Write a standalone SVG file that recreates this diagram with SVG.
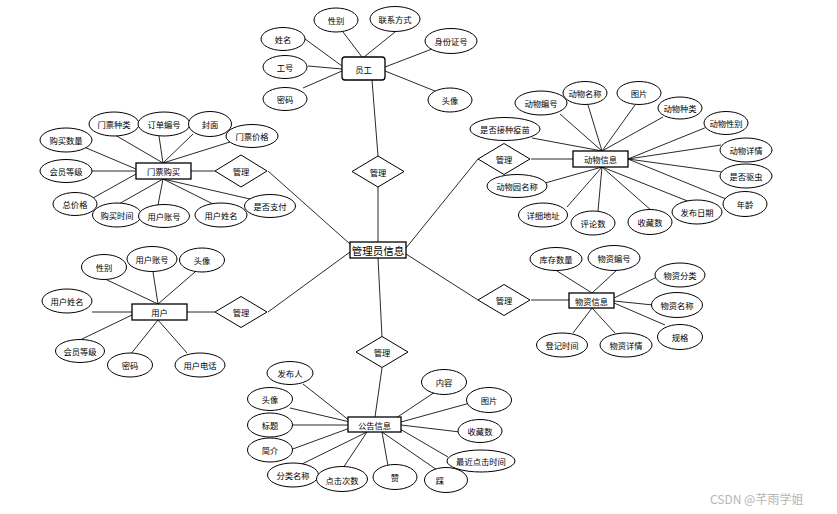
<svg xmlns="http://www.w3.org/2000/svg" width="837" height="514" viewBox="0 0 837 514">
<style>
.a{fill:#fff;stroke:#000;stroke-width:1}
.e{fill:#fff;stroke:#000;stroke-width:1.3}
.d{fill:#fff;stroke:#000;stroke-width:1}
.l{stroke:#111;stroke-width:0.9;fill:none}
text{font-family:"Noto Sans CJK SC","Noto Sans",sans-serif;font-size:8.3px;fill:#000;text-anchor:middle;dominant-baseline:central}
.big{font-size:10.5px}
.wm{font-size:12px;fill:#b5b5b5;text-anchor:start}
</style>
<rect width="837" height="514" fill="#fff"/>
<g id="connectors">
<line class="l" x1="305" y1="39" x2="342" y2="66"/>
<line class="l" x1="308" y1="66" x2="342" y2="69"/>
<line class="l" x1="303" y1="88" x2="342" y2="71"/>
<line class="l" x1="343" y1="32" x2="362" y2="57"/>
<line class="l" x1="395" y1="32" x2="364" y2="57"/>
<line class="l" x1="432" y1="49" x2="385" y2="67"/>
<line class="l" x1="435" y1="91" x2="385" y2="71"/>
<line class="l" x1="372" y1="80" x2="378" y2="156"/>
<line class="l" x1="378" y1="187" x2="378" y2="242"/>
<line class="l" x1="406" y1="248" x2="478" y2="159"/>
<line class="l" x1="531" y1="159" x2="573" y2="159"/>
<line class="l" x1="560" y1="114" x2="602" y2="151"/>
<line class="l" x1="588" y1="105" x2="602" y2="151"/>
<line class="l" x1="635" y1="105" x2="602" y2="151"/>
<line class="l" x1="663" y1="117" x2="602" y2="151"/>
<line class="l" x1="532" y1="138" x2="602" y2="151"/>
<line class="l" x1="707" y1="127" x2="628" y2="159"/>
<line class="l" x1="721" y1="145" x2="628" y2="159"/>
<line class="l" x1="722" y1="172" x2="628" y2="159"/>
<line class="l" x1="726" y1="199" x2="628" y2="159"/>
<line class="l" x1="690" y1="202" x2="602" y2="167"/>
<line class="l" x1="652" y1="211" x2="602" y2="167"/>
<line class="l" x1="598" y1="211" x2="602" y2="167"/>
<line class="l" x1="567" y1="207" x2="602" y2="167"/>
<line class="l" x1="545" y1="183" x2="602" y2="167"/>
<line class="l" x1="191" y1="171" x2="215" y2="171"/>
<line class="l" x1="268" y1="171" x2="350" y2="244"/>
<line class="l" x1="115" y1="135" x2="163" y2="163"/>
<line class="l" x1="159" y1="136" x2="163" y2="163"/>
<line class="l" x1="193" y1="134" x2="163" y2="163"/>
<line class="l" x1="230" y1="142" x2="163" y2="163"/>
<line class="l" x1="84" y1="147" x2="136" y2="169"/>
<line class="l" x1="92" y1="171" x2="136" y2="171"/>
<line class="l" x1="93" y1="198" x2="136" y2="174"/>
<line class="l" x1="117" y1="205" x2="163" y2="179"/>
<line class="l" x1="158" y1="205" x2="163" y2="179"/>
<line class="l" x1="213" y1="204" x2="163" y2="179"/>
<line class="l" x1="250" y1="199" x2="163" y2="179"/>
<line class="l" x1="187" y1="312" x2="215" y2="312"/>
<line class="l" x1="268" y1="312" x2="350" y2="252"/>
<line class="l" x1="105" y1="279" x2="158" y2="304"/>
<line class="l" x1="153" y1="272" x2="158" y2="304"/>
<line class="l" x1="195" y1="272" x2="158" y2="304"/>
<line class="l" x1="92" y1="312" x2="132" y2="312"/>
<line class="l" x1="82" y1="339" x2="132" y2="315"/>
<line class="l" x1="130" y1="355" x2="158" y2="320"/>
<line class="l" x1="187" y1="353" x2="158" y2="320"/>
<line class="l" x1="406" y1="254" x2="478" y2="300"/>
<line class="l" x1="531" y1="300" x2="569" y2="300"/>
<line class="l" x1="557" y1="271" x2="592" y2="293"/>
<line class="l" x1="617" y1="270" x2="592" y2="293"/>
<line class="l" x1="657" y1="277" x2="614" y2="298"/>
<line class="l" x1="653" y1="305" x2="614" y2="301"/>
<line class="l" x1="665" y1="325" x2="614" y2="303"/>
<line class="l" x1="573" y1="333" x2="592" y2="308"/>
<line class="l" x1="615" y1="333" x2="592" y2="308"/>
<line class="l" x1="378" y1="258" x2="382" y2="337"/>
<line class="l" x1="382" y1="368" x2="375" y2="417"/>
<line class="l" x1="303" y1="384" x2="350" y2="421"/>
<line class="l" x1="290" y1="408" x2="350" y2="422"/>
<line class="l" x1="293" y1="425" x2="348" y2="425"/>
<line class="l" x1="290" y1="450" x2="350" y2="428"/>
<line class="l" x1="300" y1="465" x2="367" y2="432"/>
<line class="l" x1="343" y1="468" x2="367" y2="432"/>
<line class="l" x1="388" y1="466" x2="382" y2="432"/>
<line class="l" x1="437" y1="470" x2="382" y2="432"/>
<line class="l" x1="448" y1="457" x2="400" y2="429"/>
<line class="l" x1="460" y1="432" x2="401" y2="425"/>
<line class="l" x1="470" y1="403" x2="401" y2="422"/>
<line class="l" x1="435" y1="392" x2="396" y2="418"/>
</g>

<g id="admin"><rect class="e" x="350" y="242" width="56" height="16"/><text class="big" x="378" y="250">管理员信息</text></g>

<g id="employee"><rect class="e" x="342" y="57" width="43" height="23" rx="3"/><text x="363.5" y="68.5">员工</text></g>
<g id="emp-name"><ellipse class="a" cx="283" cy="39" rx="22" ry="11.5"/><text x="283" y="39">姓名</text></g>
<g id="emp-sex"><ellipse class="a" cx="336" cy="20" rx="22" ry="12"/><text x="336" y="20">性别</text></g>
<g id="emp-contact"><ellipse class="a" cx="395" cy="19" rx="25" ry="12.5"/><text x="395" y="19">联系方式</text></g>
<g id="emp-id"><ellipse class="a" cx="451" cy="41" rx="26" ry="12.5"/><text x="451" y="41">身份证号</text></g>
<g id="emp-no"><ellipse class="a" cx="285" cy="67" rx="22" ry="11.5"/><text x="285" y="67">工号</text></g>
<g id="emp-pwd"><ellipse class="a" cx="285" cy="99" rx="22" ry="11.5"/><text x="285" y="99">密码</text></g>
<g id="emp-avatar"><ellipse class="a" cx="450" cy="100" rx="22" ry="12"/><text x="450" y="100">头像</text></g>
<g id="rel-emp"><polygon class="d" points="378,156 404,171.5 378,187 352,171.5"/><text x="378" y="171.5">管理</text></g>

<g id="animal"><rect class="e" x="573" y="151" width="55" height="16"/><text x="600.5" y="159">动物信息</text></g>
<g id="rel-animal"><polygon class="d" points="504,143.5 530,159 504,174.5 478,159"/><text x="504" y="159">管理</text></g>
<g id="an-no"><ellipse class="a" cx="541" cy="103" rx="26" ry="12"/><text x="541" y="103">动物编号</text></g>
<g id="an-name"><ellipse class="a" cx="585" cy="93" rx="22" ry="11.5"/><text x="585" y="93">动物名称</text></g>
<g id="an-pic"><ellipse class="a" cx="639" cy="93" rx="22" ry="11.5"/><text x="639" y="93">图片</text></g>
<g id="an-kind"><ellipse class="a" cx="680" cy="108" rx="22" ry="11"/><text x="680" y="108">动物种类</text></g>
<g id="an-sex"><ellipse class="a" cx="726" cy="123" rx="22" ry="11.5"/><text x="726" y="123">动物性别</text></g>
<g id="an-detail"><ellipse class="a" cx="746" cy="150" rx="26" ry="12"/><text x="746" y="150">动物详情</text></g>
<g id="an-worm"><ellipse class="a" cx="746" cy="176" rx="26" ry="12"/><text x="746" y="176">是否驱虫</text></g>
<g id="an-age"><ellipse class="a" cx="745" cy="204" rx="22" ry="12.5"/><text x="745" y="204">年龄</text></g>
<g id="an-date"><ellipse class="a" cx="697" cy="212" rx="25" ry="12"/><text x="697" y="212">发布日期</text></g>
<g id="an-fav"><ellipse class="a" cx="650" cy="222" rx="22" ry="12.5"/><text x="650" y="222">收藏数</text></g>
<g id="an-cmt"><ellipse class="a" cx="593" cy="223" rx="22" ry="12"/><text x="593" y="223">评论数</text></g>
<g id="an-addr"><ellipse class="a" cx="543" cy="215" rx="24.5" ry="12"/><text x="543" y="215">详细地址</text></g>
<g id="an-zoo"><ellipse class="a" cx="517" cy="186" rx="30" ry="11.5"/><text x="517" y="186">动物园名称</text></g>
<g id="an-vac"><ellipse class="a" cx="505" cy="129" rx="35" ry="11.5"/><text x="505" y="129">是否接种疫苗</text></g>

<g id="ticket"><rect class="e" x="136" y="163" width="55" height="16"/><text x="163.5" y="171">门票购买</text></g>
<g id="rel-ticket"><polygon class="d" points="241,155 267,171 241,187 215,171"/><text x="241" y="171">管理</text></g>
<g id="tk-kind"><ellipse class="a" cx="114" cy="124" rx="25" ry="12"/><text x="114" y="124">门票种类</text></g>
<g id="tk-order"><ellipse class="a" cx="164" cy="124" rx="26" ry="12"/><text x="164" y="124">订单编号</text></g>
<g id="tk-cover"><ellipse class="a" cx="210" cy="124" rx="21.5" ry="12.5"/><text x="210" y="124">封面</text></g>
<g id="tk-price"><ellipse class="a" cx="252" cy="136" rx="26" ry="11.5"/><text x="252" y="136">门票价格</text></g>
<g id="tk-qty"><ellipse class="a" cx="66" cy="140" rx="26" ry="12"/><text x="66" y="140">购买数量</text></g>
<g id="tk-level"><ellipse class="a" cx="66" cy="171" rx="26" ry="11.5"/><text x="66" y="171">会员等级</text></g>
<g id="tk-total"><ellipse class="a" cx="75" cy="204" rx="22" ry="11.5"/><text x="75" y="204">总价格</text></g>
<g id="tk-time"><ellipse class="a" cx="117" cy="215" rx="24.5" ry="12"/><text x="117" y="215">购买时间</text></g>
<g id="tk-acct"><ellipse class="a" cx="164" cy="216" rx="25.5" ry="11.5"/><text x="164" y="216">用户账号</text></g>
<g id="tk-uname"><ellipse class="a" cx="221" cy="215" rx="26" ry="12"/><text x="221" y="215">用户姓名</text></g>
<g id="tk-paid"><ellipse class="a" cx="270" cy="206" rx="25.5" ry="11.5"/><text x="270" y="206">是否支付</text></g>

<g id="user"><rect class="e" x="132" y="304" width="55" height="16"/><text x="159.5" y="312">用户</text></g>
<g id="rel-user"><polygon class="d" points="241,296.5 267,312 241,327.5 215,312"/><text x="241" y="312">管理</text></g>
<g id="us-sex"><ellipse class="a" cx="104" cy="267" rx="22.5" ry="12.5"/><text x="104" y="267">性别</text></g>
<g id="us-acct"><ellipse class="a" cx="152" cy="259" rx="25" ry="12.5"/><text x="152" y="259">用户账号</text></g>
<g id="us-avatar"><ellipse class="a" cx="202" cy="260" rx="22.5" ry="12"/><text x="202" y="260">头像</text></g>
<g id="us-name"><ellipse class="a" cx="67" cy="301" rx="25" ry="12"/><text x="67" y="301">用户姓名</text></g>
<g id="us-level"><ellipse class="a" cx="80" cy="351" rx="24.5" ry="11.5"/><text x="80" y="351">会员等级</text></g>
<g id="us-pwd"><ellipse class="a" cx="130" cy="365" rx="22.5" ry="12"/><text x="130" y="365">密码</text></g>
<g id="us-phone"><ellipse class="a" cx="200" cy="365" rx="25" ry="12"/><text x="200" y="365">用户电话</text></g>

<g id="goods"><rect class="e" x="569" y="293" width="45" height="15"/><text x="591.5" y="300.5">物资信息</text></g>
<g id="rel-goods"><polygon class="d" points="504,284.5 530,300 504,315.5 478,300"/><text x="504" y="300">管理</text></g>
<g id="gd-stock"><ellipse class="a" cx="556" cy="259" rx="26" ry="11.5"/><text x="556" y="259">库存数量</text></g>
<g id="gd-no"><ellipse class="a" cx="614" cy="258" rx="26" ry="12.5"/><text x="614" y="258">物资编号</text></g>
<g id="gd-cat"><ellipse class="a" cx="680" cy="275" rx="25" ry="12"/><text x="680" y="275">物资分类</text></g>
<g id="gd-name"><ellipse class="a" cx="677" cy="305" rx="25.5" ry="12.5"/><text x="677" y="305">物资名称</text></g>
<g id="gd-spec"><ellipse class="a" cx="680" cy="337" rx="22.5" ry="12.5"/><text x="680" y="337">规格</text></g>
<g id="gd-time"><ellipse class="a" cx="562" cy="345" rx="25.5" ry="12"/><text x="562" y="345">登记时间</text></g>
<g id="gd-detail"><ellipse class="a" cx="626" cy="345" rx="26" ry="12"/><text x="626" y="345">物资详情</text></g>

<g id="notice"><rect class="e" x="348" y="417" width="53" height="15"/><text x="374.5" y="424.5">公告信息</text></g>
<g id="rel-notice"><polygon class="d" points="382,336.5 408,352 382,367.5 356,352"/><text x="382" y="352">管理</text></g>
<g id="nt-pub"><ellipse class="a" cx="290" cy="373" rx="23" ry="11.5"/><text x="290" y="373">发布人</text></g>
<g id="nt-avatar"><ellipse class="a" cx="270" cy="399" rx="22.5" ry="11.5"/><text x="270" y="399">头像</text></g>
<g id="nt-title"><ellipse class="a" cx="270" cy="425" rx="22.5" ry="12"/><text x="270" y="425">标题</text></g>
<g id="nt-intro"><ellipse class="a" cx="270" cy="450" rx="22.5" ry="12"/><text x="270" y="450">简介</text></g>
<g id="nt-cat"><ellipse class="a" cx="293" cy="475" rx="25.5" ry="12"/><text x="293" y="475">分类名称</text></g>
<g id="nt-clicks"><ellipse class="a" cx="342" cy="479" rx="25.5" ry="12.5"/><text x="342" y="480">点击次数</text></g>
<g id="nt-up"><ellipse class="a" cx="395" cy="477" rx="22" ry="12.5"/><text x="395" y="477">赞</text></g>
<g id="nt-down"><ellipse class="a" cx="446" cy="480" rx="21.5" ry="12.5"/><text x="440" y="480">踩</text></g>
<g id="nt-last"><ellipse class="a" cx="481" cy="461" rx="34" ry="11"/><text x="481" y="461">最近点击时间</text></g>
<g id="nt-fav"><ellipse class="a" cx="480" cy="431" rx="22" ry="11.5"/><text x="480" y="431">收藏数</text></g>
<g id="nt-pic"><ellipse class="a" cx="489" cy="400" rx="22.5" ry="12.5"/><text x="489" y="400">图片</text></g>
<g id="nt-content"><ellipse class="a" cx="444" cy="382" rx="22.5" ry="12.5"/><text x="444" y="382">内容</text></g>

<text class="wm" x="710" y="498">CSDN @芊雨学姐</text>
</svg>
